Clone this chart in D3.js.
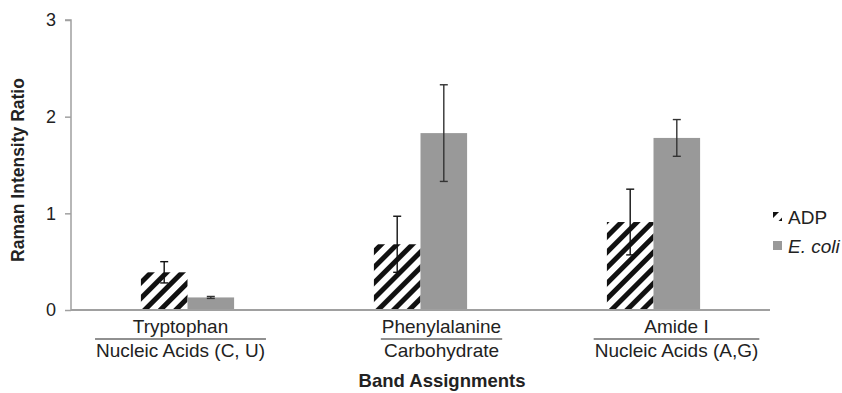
<!DOCTYPE html>
<html>
<head>
<meta charset="utf-8">
<script src="https://cdn.jsdelivr.net/npm/d3@7"></script>
<style>
  body { margin: 0; background: #fff; }
  text { font-family: "Liberation Sans", Arial, sans-serif; }
</style>
</head>
<body>
<svg id="chart"></svg>
<script>
// data
var bandsTop = ["Tryptophan", "Phenylalanine", "Amide I"];
var bandsBottom = ["Nucleic Acids (C, U)", "Carbohydrate", "Nucleic Acids (A,G)"];
var seriesNames = ["ADP", "E. coli"];
var adpValues = [0.39, 0.68, 0.91];
var adpErrors = [0.11, 0.29, 0.34];
var ecoliValues = [0.13, 1.83, 1.78];
var ecoliErrors = [0.01, 0.5, 0.19];
var yTicks = [0, 1, 2, 3];

var width = 842, height = 393;
var margin = { left: 71, right: 72, top: 20, bottom: 83 };
// the category labels in the original sit a bit off the bar groups
var labelNudge = [-7, 21, 23];

var svg = d3.select('#chart')
  .attr('width', width)
  .attr('height', height);

// diagonal stripe pattern for ADP
var defs = svg.append('defs');
var pat = defs.append('pattern')
  .attr('id', 'stripes')
  .attr('patternUnits', 'userSpaceOnUse')
  .attr('width', 11)
  .attr('height', 11)
  .attr('patternTransform', 'rotate(45)');
pat.append('rect').attr('width', 11).attr('height', 11).attr('fill', '#fff');
pat.append('rect').attr('x', 0).attr('width', 5).attr('height', 11).attr('fill', '#111');

var x = d3.scaleBand()
  .domain(bandsTop)
  .range([margin.left, width - margin.right]);

var x1 = d3.scaleBand()
  .domain(seriesNames)
  .range([0, x.bandwidth() * 0.4]);

var y = d3.scaleLinear()
  .domain([0, 3])
  .range([height - margin.bottom, margin.top]);

var fills = { "ADP": "url(#stripes)", "E. coli": "#999999" };

// data table
var rows = [];
bandsTop.forEach(function (b, i) {
  rows.push({ band: b, series: "ADP", value: adpValues[i], err: adpErrors[i] });
  rows.push({ band: b, series: "E. coli", value: ecoliValues[i], err: ecoliErrors[i] });
});

// y axis
var yAxis = svg.append('g')
  .attr('transform', 'translate(' + margin.left + ',0)')
  .call(d3.axisLeft(y).tickValues(yTicks).tickSize(6).tickPadding(9).tickFormat(d3.format('d')));
yAxis.selectAll('path, line').attr('stroke', '#a0a0a0').attr('stroke-width', 1.5);
yAxis.select('.domain').attr('d', 'M-6,' + y(3) + 'H0V' + y(0));
yAxis.selectAll('text').attr('font-size', 18).attr('fill', '#222');

// bars
var offset = (x.bandwidth() - x1.range()[1]) / 2;
svg.append('g').selectAll('rect')
  .data(rows)
  .join('rect')
  .attr('x', function (d) { return x(d.band) + offset + x1(d.series); })
  .attr('y', function (d) { return y(d.value); })
  .attr('width', x1.bandwidth())
  .attr('height', function (d) { return y(0) - y(d.value); })
  .attr('fill', function (d) { return fills[d.series]; });

// x axis line
svg.append('line')
  .attr('x1', margin.left).attr('x2', width - margin.right)
  .attr('y1', y(0)).attr('y2', y(0))
  .attr('stroke', '#a0a0a0').attr('stroke-width', 2);

// error bars
var eb = svg.append('g').selectAll('g')
  .data(rows)
  .join('g')
  .attr('stroke', function (d) { return d.series === "ADP" ? '#111' : '#333'; })
  .attr('stroke-width', 1.4);
eb.append('line')
  .attr('x1', function (d) { return x(d.band) + offset + x1(d.series) + x1.bandwidth() / 2; })
  .attr('x2', function (d) { return x(d.band) + offset + x1(d.series) + x1.bandwidth() / 2; })
  .attr('y1', function (d) { return y(d.value + d.err); })
  .attr('y2', function (d) { return y(d.value - d.err); });
[1, -1].forEach(function (s) {
  eb.append('line')
    .attr('x1', function (d) { return x(d.band) + offset + x1(d.series) + x1.bandwidth() / 2 - 4; })
    .attr('x2', function (d) { return x(d.band) + offset + x1(d.series) + x1.bandwidth() / 2 + 4; })
    .attr('y1', function (d) { return y(d.value + s * d.err); })
    .attr('y2', function (d) { return y(d.value + s * d.err); });
});

// category labels as fractions
var cat = svg.append('g').selectAll('g')
  .data(bandsTop)
  .join('g')
  .attr('transform', function (d, i) { return 'translate(' + (x(d) + x.bandwidth() / 2 + labelNudge[i]) + ',0)'; });
cat.append('text')
  .attr('class', 'top')
  .attr('y', 333).attr('text-anchor', 'middle')
  .attr('font-size', 19).attr('fill', '#222')
  .text(function (d) { return d; });
cat.append('text')
  .attr('class', 'bot')
  .attr('y', 357).attr('text-anchor', 'middle')
  .attr('font-size', 19).attr('fill', '#222')
  .text(function (d, i) { return bandsBottom[i]; });
cat.each(function () {
  var g = d3.select(this);
  var w = Math.max(g.select('.top').node().getComputedTextLength(),
    g.select('.bot').node().getComputedTextLength()) + 2;
  g.append('line')
    .attr('x1', -w / 2).attr('x2', w / 2)
    .attr('y1', 339).attr('y2', 339)
    .attr('stroke', '#222').attr('stroke-width', 1.2);
});

// axis titles
svg.append('text')
  .attr('x', 442)
  .attr('y', 387)
  .attr('text-anchor', 'middle')
  .attr('font-size', 18.5).attr('font-weight', 'bold').attr('fill', '#222')
  .text('Band Assignments');
svg.append('text')
  .attr('transform', 'translate(24,' + 170 + ') rotate(-90)')
  .attr('text-anchor', 'middle')
  .attr('font-size', 17.5).attr('font-weight', 'bold').attr('fill', '#222')
  .text('Raman Intensity Ratio');

// legend
var leg = svg.append('g').selectAll('g')
  .data(seriesNames)
  .join('g')
  .attr('transform', function (d, i) { return 'translate(773,' + (211 + i * 29) + ')'; });
leg.append('rect')
  .attr('y', 1)
  .attr('width', 9).attr('height', 9)
  .attr('fill', function (d) { return fills[d]; });
leg.append('text')
  .attr('x', 15).attr('y', 13)
  .attr('font-size', 19).attr('fill', '#222')
  .attr('font-style', function (d) { return d === "E. coli" ? 'italic' : null; })
  .text(function (d) { return d; });
</script>
</body>
</html>
